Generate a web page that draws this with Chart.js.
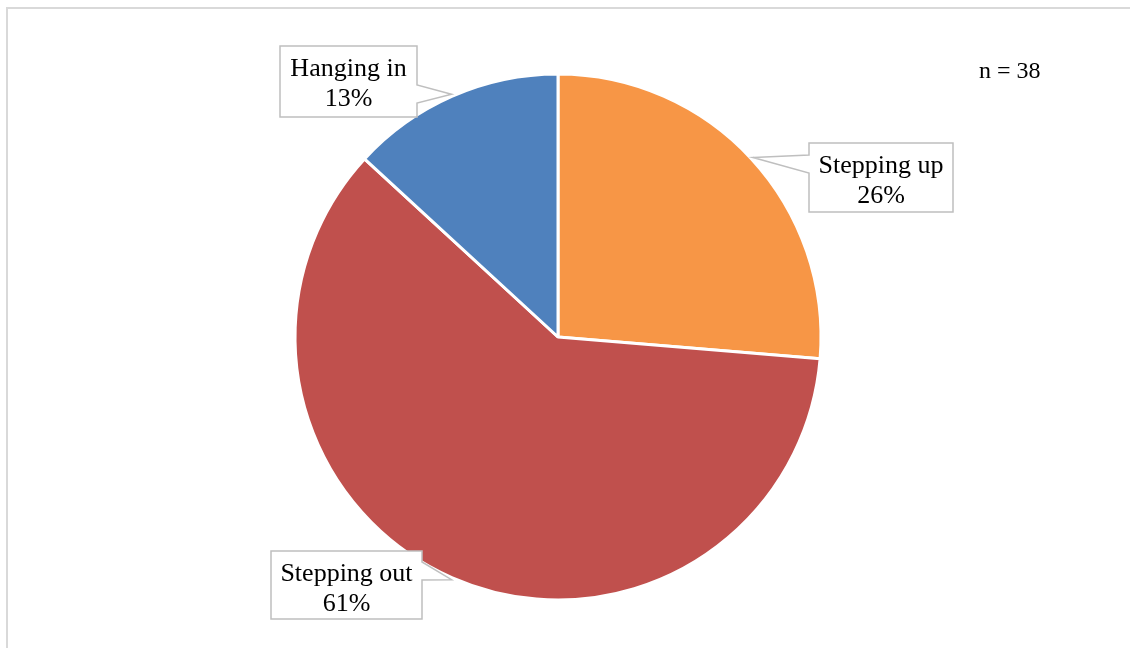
<!DOCTYPE html>
<html>
<head>
<meta charset="utf-8">
<title>Career moves</title>
<script src="https://cdn.jsdelivr.net/npm/chart.js@4"></script>
<style>
  html, body { margin: 0; padding: 0; background: #ffffff; }
  #wrap { position: relative; width: 1130px; height: 648px; }
</style>
</head>
<body>
<div id="wrap"><canvas id="pie" width="1130" height="648"></canvas></div>
<script>
// Respondents by transition type (counts)
const categories = ['Stepping up', 'Stepping out', 'Hanging in'];
const counts = [10, 23, 5];
const sampleSize = counts.reduce((a, b) => a + b, 0);

const sliceColors = ['#F79646', '#C0504D', '#4F81BD'];

// Callout boxes: box rect plus where the pointer leaves the box edge
const calloutLayout = [
  { x: 809, y: 143, w: 144, h: 69, side: 'left',  y0: 155, y1: 173 },
  { x: 271, y: 551, w: 151, h: 68, side: 'right', y0: 562, y1: 580 },
  { x: 280, y: 46,  w: 137, h: 71, side: 'right', y0: 85,  y1: 103 }
];

const SERIF = '"Liberation Serif", "Times New Roman", serif';

function drawCallout(ctx, box, tip) {
  const l = box.x, t = box.y, r = box.x + box.w, b = box.y + box.h;
  ctx.beginPath();
  ctx.moveTo(l, t);
  ctx.lineTo(r, t);
  if (box.side === 'right') {
    ctx.lineTo(r, box.y0);
    ctx.lineTo(tip.x, tip.y);
    ctx.lineTo(r, box.y1);
  }
  ctx.lineTo(r, b);
  ctx.lineTo(l, b);
  if (box.side === 'left') {
    ctx.lineTo(l, box.y1);
    ctx.lineTo(tip.x, tip.y);
    ctx.lineTo(l, box.y0);
  }
  ctx.closePath();
  ctx.fillStyle = '#ffffff';
  ctx.fill();
  ctx.lineWidth = 1.5;
  ctx.strokeStyle = '#bfbfbf';
  ctx.stroke();
}

const calloutPlugin = {
  id: 'callouts',
  beforeDraw(chart) {
    const ctx = chart.ctx;
    ctx.save();
    // outer frame (only the top and left edges fall inside the page)
    ctx.strokeStyle = '#d9d9d9';
    ctx.lineWidth = 2;
    ctx.beginPath();
    ctx.moveTo(7, 660);
    ctx.lineTo(7, 8);
    ctx.lineTo(1140, 8);
    ctx.stroke();
    ctx.restore();
  },
  afterDraw(chart) {
    const ctx = chart.ctx;
    const meta = chart.getDatasetMeta(0);
    ctx.save();
    meta.data.forEach((arc, i) => {
      const box = calloutLayout[i];
      const mid = (arc.startAngle + arc.endAngle) / 2;
      const rr = arc.outerRadius + 2;
      const tip = { x: arc.x + rr * Math.cos(mid), y: arc.y + rr * Math.sin(mid) };
      drawCallout(ctx, box, tip);
      ctx.fillStyle = '#000000';
      ctx.font = '26px ' + SERIF;
      ctx.textAlign = 'center';
      ctx.textBaseline = 'alphabetic';
      const cx = box.x + box.w / 2;
      const pct = Math.round(counts[i] / sampleSize * 100);
      ctx.fillText(categories[i], cx, box.y + 30);
      ctx.fillText(pct + '%', cx, box.y + 60);
    });
    ctx.font = '24px ' + SERIF;
    ctx.textAlign = 'left';
    ctx.fillStyle = '#000000';
    ctx.fillText('n = ' + sampleSize, 979, 78);
    ctx.restore();
  }
};

new Chart(document.getElementById('pie'), {
  type: 'pie',
  data: {
    labels: categories,
    datasets: [{
      data: counts,
      backgroundColor: sliceColors,
      borderColor: '#ffffff',
      borderWidth: 3
    }]
  },
  options: {
    responsive: false,
    animation: false,
    radius: 263,
    layout: { padding: { left: 296, right: 310, top: 75, bottom: 49 } },
    plugins: {
      legend: { display: false },
      tooltip: { enabled: false }
    }
  },
  plugins: [calloutPlugin]
});
</script>
</body>
</html>
